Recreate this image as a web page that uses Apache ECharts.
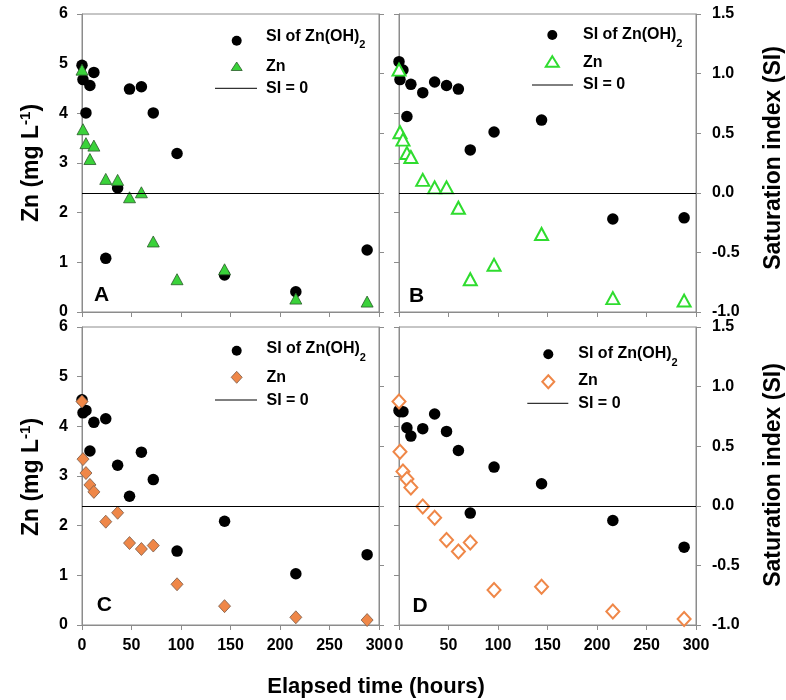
<!DOCTYPE html>
<html>
<head>
<meta charset="utf-8">
<script src="https://cdn.jsdelivr.net/npm/echarts@6/dist/echarts.min.js"></script>
<style>
  html, body { margin: 0; padding: 0; background: #fff; }
  #chart { width: 786px; height: 700px; }
</style>
</head>
<body>
<div id="chart"></div>
<script>
// Sampling times (hours) shared by all four treatments
const hours = [0, 1, 4, 8, 12, 24, 36, 48, 60, 72, 96, 144, 216, 288];

// Saturation index of Zn(OH)2, panels A-D
const siA = [1.07, 0.95, 0.67, 0.90, 1.01, -0.55, 0.04, 0.87, 0.89, 0.67, 0.33, -0.69, -0.83, -0.48];
const siB = [1.10, 0.95, 1.03, 0.64, 0.91, 0.84, 0.93, 0.90, 0.87, 0.36, 0.51, 0.61, -0.22, -0.21];
const siC = [0.89, 0.78, 0.80, 0.46, 0.70, 0.73, 0.34, 0.08, 0.45, 0.22, -0.38, -0.13, -0.57, -0.41];
const siD = [0.80, 0.79, 0.79, 0.655, 0.585, 0.647, 0.77, 0.624, 0.464, -0.061, 0.325, 0.185, -0.123, -0.347];

// Dissolved Zn (mg/L), panels A-D
const znA = [4.88, 3.68, 3.40, 3.08, 3.35, 2.68, 2.66, 2.31, 2.41, 1.42, 0.66, 0.86, 0.27, 0.21];
const znB = [4.88, 3.62, 3.47, 3.20, 3.12, 2.66, 2.51, 2.51, 2.10, 0.66, 0.95, 1.57, 0.28, 0.23];
const znC = [4.50, 3.34, 3.06, 2.82, 2.68, 2.08, 2.26, 1.65, 1.53, 1.60, 0.82, 0.38, 0.155, 0.10];
const znD = [4.50, 3.49, 3.09, 2.94, 2.77, 2.385, 2.16, 1.71, 1.48, 1.66, 0.705, 0.77, 0.27, 0.12];

const panelLetters = ['A', 'B', 'C', 'D'];
const siLabel = 'SI of Zn(OH)';
const znLabel = 'Zn';
const zeroLabel = 'SI = 0';
const xTitle = 'Elapsed time (hours)';
const leftTitle = 'Zn (mg L';
const rightTitle = 'Saturation index (SI)';

const FONT = '"Liberation Sans", Arial, Helvetica, sans-serif';
const GRAY = '#8c8c8c';
const GREEN = '#3ad23a';
const GREEN_LINE = '#2fdc2f';
const ORANGE = '#ef8748';

const siSets = [siA, siB, siC, siD];
const znSets = [znA, znB, znC, znD];

const grids = [
  { left: 82,  top: 14,  width: 297, height: 298 },
  { left: 399, top: 14,  width: 297, height: 298 },
  { left: 82,  top: 327, width: 297, height: 298 },
  { left: 399, top: 327, width: 297, height: 298 }
];

// Zn marker style per panel
const znStyles = [
  { symbol: 'triangle', symbolSize: [12, 11], itemStyle: { color: GREEN, borderColor: '#2a5a2a', borderWidth: 0.8, opacity: 1 } },
  { symbol: 'triangle', symbolSize: [13, 12], itemStyle: { color: '#fff', borderColor: GREEN_LINE, borderWidth: 2, opacity: 1 } },
  { symbol: 'diamond',  symbolSize: [12, 13], itemStyle: { color: ORANGE, borderColor: '#7a5a48', borderWidth: 0.8, opacity: 1 } },
  { symbol: 'diamond',  symbolSize: [13, 14], itemStyle: { color: '#fff', borderColor: ORANGE, borderWidth: 2, opacity: 1 } }
];

const pairs = vals => hours.map((h, i) => [h, vals[i]]);

const axisLine = { onZero: false, lineStyle: { color: GRAY, width: 1 } };
const axisTick = { inside: false, length: 5, lineStyle: { color: GRAY, width: 1 } };
const labelStyle = { color: '#000', fontWeight: 'bold', fontSize: 16, fontFamily: FONT };

const xAxes = grids.map((g, i) => ({
  gridIndex: i, type: 'value', min: 0, max: 300, interval: 50,
  axisLine, axisTick, splitLine: { show: false },
  axisLabel: Object.assign({ show: i >= 2, margin: 13, showMinLabel: true, showMaxLabel: true }, labelStyle)
}));

const yAxes = [];
grids.forEach((g, i) => {
  yAxes.push({
    gridIndex: i, type: 'value', position: 'left', min: 0, max: 6, interval: 1,
    axisLine, axisTick, splitLine: { show: false },
    axisLabel: Object.assign({ show: i === 0 || i === 2, margin: 14, showMinLabel: true, showMaxLabel: true }, labelStyle)
  });
  yAxes.push({
    gridIndex: i, type: 'value', position: 'right', min: -1, max: 1.5, interval: 0.5,
    axisLine, axisTick, splitLine: { show: false },
    axisLabel: Object.assign({ show: i === 1 || i === 3, margin: 16, showMinLabel: true, showMaxLabel: true,
      formatter: v => v.toFixed(1) }, labelStyle)
  });
});

const series = [];
grids.forEach((g, i) => {
  series.push({
    type: 'scatter', name: siLabel + '2', xAxisIndex: i, yAxisIndex: 2 * i + 1,
    data: pairs(siSets[i]), symbol: 'circle', symbolSize: 11.5,
    itemStyle: { color: '#000', opacity: 1 }, z: 3,
    markLine: {
      silent: true, symbol: 'none', label: { show: false },
      lineStyle: { color: '#000', width: 1, type: 'solid' },
      data: [{ yAxis: 0 }]
    }
  });
  series.push(Object.assign({
    type: 'scatter', name: znLabel, xAxisIndex: i, yAxisIndex: 2 * i, data: pairs(znSets[i]), z: 4
  }, znStyles[i]));
});

// ---- legends, panel letters and axis titles ----
const txt = (x, y, rich, text, extra) => ({
  type: 'text', x, y, silent: true, z: 10,
  style: Object.assign({ text, rich, fill: '#000', align: 'left', verticalAlign: 'middle' }, extra || {})
});

const legendRich = {
  b: { font: 'bold 16px ' + FONT, lineHeight: 28, verticalAlign: 'middle' },
  s: { font: 'bold 11px ' + FONT, lineHeight: 11, verticalAlign: 'bottom' }
};

// legend placement per panel: marker x, text x, line span, row y's
const legendPos = [
  { mx: 236.7, tx: 266, l: [215, 257], my: [40.7, 66.5, 88.3], ty: [36.5, 66.8, 88.7] },
  { mx: 552.3, tx: 583, l: [532, 573], my: [35, 61.7, 85],     ty: [35, 62.5, 85] },
  { mx: 236.7, tx: 266.5, l: [215, 257], my: [350.7, 377.3, 400], ty: [349, 377.5, 400.3] },
  { mx: 548.3, tx: 578.3, l: [527.3, 568.3], my: [354.3, 381.7, 403.3], ty: [354, 380.8, 403.3] }
];

function legendIcon(i, cx, cy) {
  if (i === 0) return { type: 'polygon', z: 10, shape: { points: [[cx, cy - 4.5], [cx + 5.5, cy + 4], [cx - 5.5, cy + 4]] },
    style: { fill: GREEN, stroke: '#2a5a2a', lineWidth: 0.8 } };
  if (i === 1) return { type: 'polygon', z: 10, shape: { points: [[cx, cy - 5.5], [cx + 6.5, cy + 5], [cx - 6.5, cy + 5]] },
    style: { fill: '#fff', stroke: GREEN_LINE, lineWidth: 2 } };
  if (i === 2) return { type: 'polygon', z: 10, shape: { points: [[cx, cy - 6], [cx + 5.5, cy], [cx, cy + 6], [cx - 5.5, cy]] },
    style: { fill: ORANGE, stroke: '#7a5a48', lineWidth: 0.8 } };
  return { type: 'polygon', z: 10, shape: { points: [[cx, cy - 6.5], [cx + 6, cy], [cx, cy + 6.5], [cx - 6, cy]] },
    style: { fill: '#fff', stroke: ORANGE, lineWidth: 2 } };
}

const graphics = [];
legendPos.forEach((p, i) => {
  graphics.push({ type: 'circle', z: 10, shape: { cx: p.mx, cy: p.my[0], r: 5 }, style: { fill: '#000' } });
  graphics.push(legendIcon(i, p.mx, p.my[1]));
  graphics.push({ type: 'line', z: 10, shape: { x1: p.l[0], y1: p.my[2], x2: p.l[1], y2: p.my[2] }, style: { stroke: '#000', lineWidth: 1 } });
  graphics.push(txt(p.tx, p.ty[0], legendRich, '{b|' + siLabel + '}{s|2}'));
  graphics.push(txt(p.tx, p.ty[1], legendRich, '{b|' + znLabel + '}'));
  graphics.push(txt(p.tx, p.ty[2], legendRich, '{b|' + zeroLabel + '}'));
});

const letterPos = [[101.7, 295], [416.7, 296.7], [104.3, 605], [420, 606.7]];
letterPos.forEach((p, i) => {
  graphics.push({ type: 'text', x: p[0], y: p[1], z: 10, silent: true,
    style: { text: panelLetters[i], font: 'bold 21px ' + FONT, fill: '#000', align: 'center', verticalAlign: 'middle' } });
});

const titleRich = {
  b: { font: 'bold 23px ' + FONT, lineHeight: 27, verticalAlign: 'middle' },
  u: { font: 'bold 15px ' + FONT, lineHeight: 15, verticalAlign: 'top' }
};
[[32, 163], [32, 477]].forEach(p => {
  graphics.push({ type: 'text', x: p[0], y: p[1], rotation: Math.PI / 2, z: 10, silent: true,
    style: { text: '{b|' + leftTitle + '}{u|-1}{b|)}', rich: titleRich, fill: '#000', align: 'center', verticalAlign: 'middle' } });
});
[[774, 158], [774, 475]].forEach(p => {
  graphics.push({ type: 'text', x: p[0], y: p[1], rotation: Math.PI / 2, z: 10, silent: true,
    style: { text: rightTitle, font: 'bold 23px ' + FONT, fill: '#000', align: 'center', verticalAlign: 'middle' } });
});
graphics.push({ type: 'text', x: 376, y: 687, z: 10, silent: true,
  style: { text: xTitle, font: 'bold 22px ' + FONT, fill: '#000', align: 'center', verticalAlign: 'middle' } });

const chart = echarts.init(document.getElementById('chart'), null, { renderer: 'canvas' });
chart.setOption({
  animation: false,
  backgroundColor: '#fff',
  grid: grids.map(g => Object.assign({ show: true, borderColor: GRAY, borderWidth: 1, backgroundColor: 'transparent' }, g)),
  xAxis: xAxes,
  yAxis: yAxes,
  series,
  graphic: graphics
});
</script>
</body>
</html>
